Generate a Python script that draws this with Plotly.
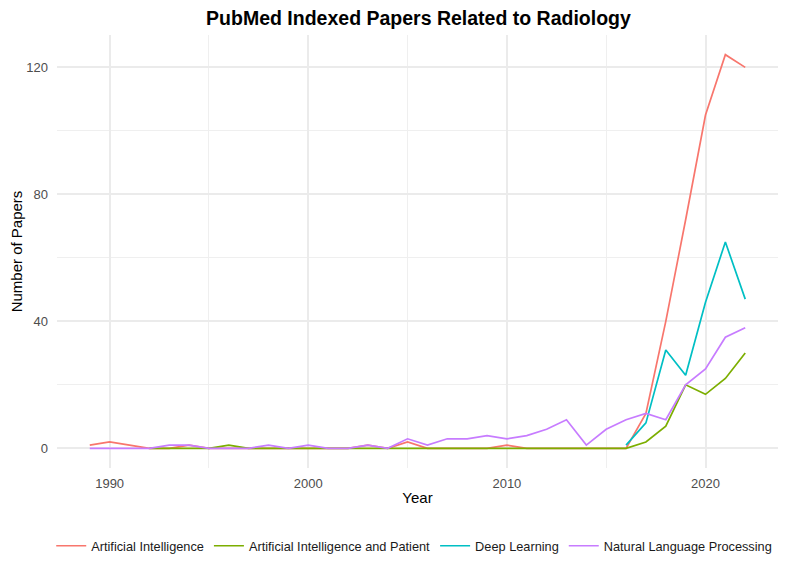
import plotly.graph_objects as go

years_ai = list(range(1989, 2023))
ai = [1, 2, 1, 0, 0, 1, 0, 0, 0, 0, 0, 0, 0, 0, 1, 0, 2, 0, 0, 0, 0, 1, 0, 0, 0, 0, 0, 0,
      11, 40, 72, 105, 124, 120]

years_aip = list(range(1992, 2023))
aip = [0, 0, 0, 0, 1, 0, 0, 0, 0, 0, 0, 0, 0, 0, 0, 0, 0, 0, 0, 0, 0, 0, 0, 0, 0,
       2, 7, 20, 17, 22, 30]

years_dl = list(range(2016, 2023))
dl = [1, 8, 31, 23, 46, 65, 47]

years_nlp = list(range(1989, 2023))
nlp = [0, 0, 0, 0, 1, 1, 0, 0, 0, 1, 0, 1, 0, 0, 1, 0, 3, 1, 3, 3, 4, 3, 4, 6, 9, 1,
       6, 9, 11, 9, 20, 25, 35, 38]

series = [
    ("Artificial Intelligence", years_ai, ai, "#F8766D"),
    ("Artificial Intelligence and Patient", years_aip, aip, "#7CAE00"),
    ("Deep Learning", years_dl, dl, "#00BFC4"),
    ("Natural Language Processing", years_nlp, nlp, "#C77CFF"),
]

fig = go.Figure()
for name, x, y, c in series:
    fig.add_trace(go.Scatter(x=x, y=y, mode="lines", name=name,
                             line=dict(color=c, width=1.7)))

fig.update_layout(
    width=787, height=574,
    margin=dict(l=49, r=17, t=27, b=114, autoexpand=False),
    paper_bgcolor="white", plot_bgcolor="white",
    font=dict(family="Liberation Sans, Arial, sans-serif", color="#000000"),
    title=dict(text="<b>PubMed Indexed Papers Related to Radiology</b>",
               x=0.5216, xanchor="center", y=0.983, yanchor="middle",
               font=dict(size=19.5, color="#000000")),
    legend=dict(orientation="h", x=-0.008, xanchor="left",
                y=-0.180, yanchor="middle",
                font=dict(size=12.75, color="#1a1a1a"), itemwidth=30,
                traceorder="normal"),
    showlegend=True,
)
fig.update_xaxes(
    range=[1987.35, 2023.65], tick0=1990, dtick=10, showgrid=True,
    gridcolor="#EBEBEB", gridwidth=1.6, zeroline=False, showline=False,
    ticks="", tickfont=dict(size=13, color="#4d4d4d"), automargin=False,
    ticklabelstandoff=6,
    title=dict(text="Year", font=dict(size=15, color="#000000"), standoff=2),
    minor=dict(tick0=1995, dtick=10, showgrid=True, gridcolor="#EFEFEF", gridwidth=0.9),
)
fig.update_yaxes(
    range=[-6.2, 130.2], tick0=0, dtick=40, showgrid=True,
    gridcolor="#EBEBEB", gridwidth=1.6, zeroline=False, showline=False,
    ticks="", tickfont=dict(size=13, color="#4d4d4d"), automargin=False,
    ticklabelstandoff=8,
    title=dict(text="Number of Papers", font=dict(size=15, color="#000000"), standoff=14),
    minor=dict(tick0=20, dtick=40, showgrid=True, gridcolor="#EFEFEF", gridwidth=0.9),
)

fig.write_html("out.html")
